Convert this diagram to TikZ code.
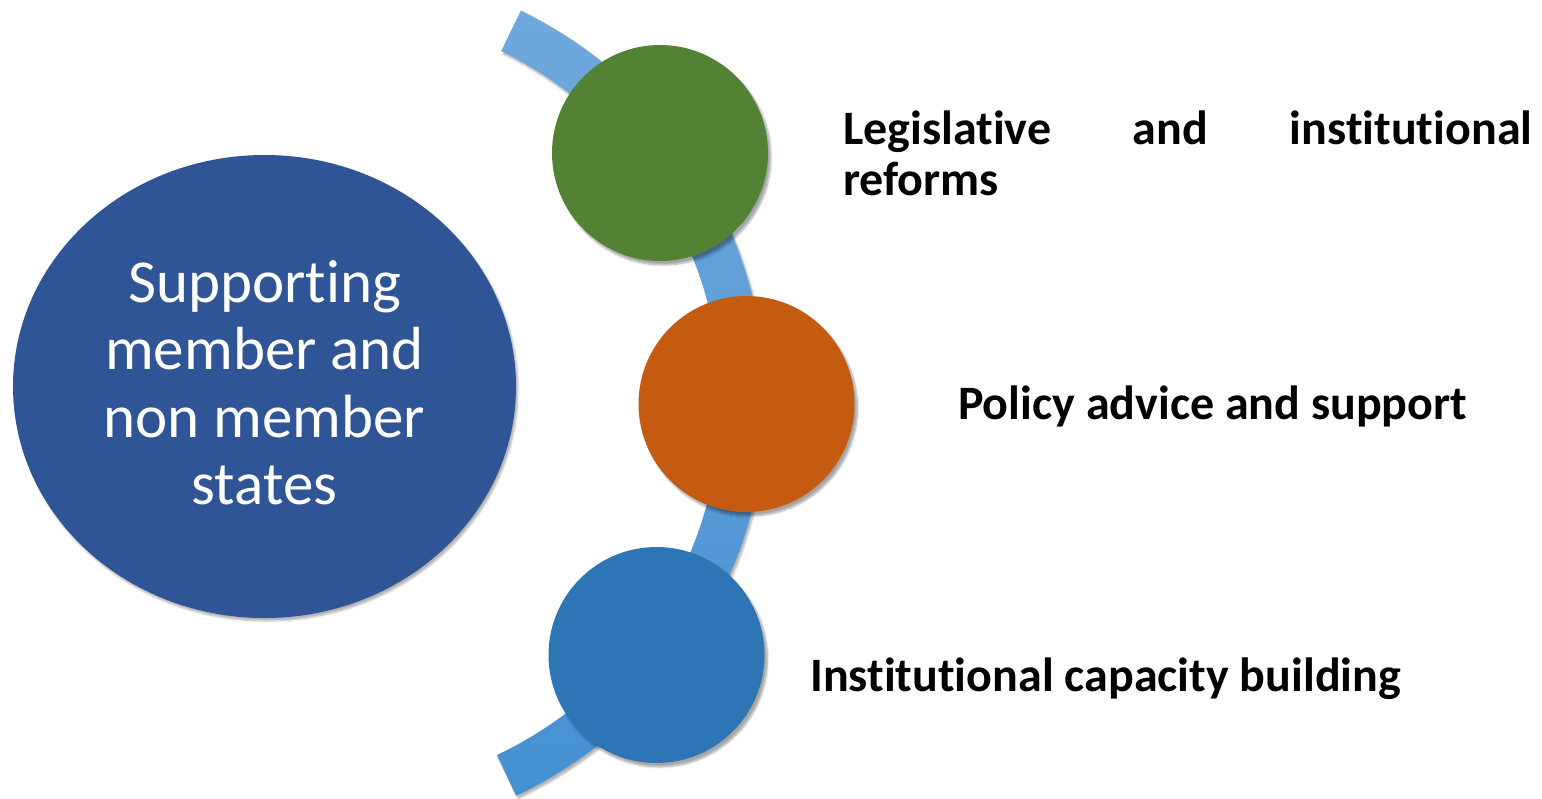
\documentclass[tikz,border=0pt]{standalone}
\usepackage{fontspec}
\setmainfont{Carlito}[RawFeature=-liga]
\usetikzlibrary{shadows.blur}
\definecolor{bigblue}{HTML}{2F5597}
\definecolor{cgreen}{HTML}{548235}
\definecolor{corange}{HTML}{C55A11}
\definecolor{cblue}{HTML}{2E75B6}
\definecolor{bandtop}{HTML}{70A8DC}
\definecolor{bandbot}{HTML}{4690D2}
\tikzset{
  dot/.style={circle, minimum size=216pt, inner sep=0pt, blur shadow={shadow xshift=3pt, shadow yshift=-4pt, shadow blur steps=8, shadow opacity=35}},
  lbl/.style={font=\fontsize{48}{51}\selectfont\bfseries, text=black, inner sep=0pt},
  ctext/.style={font=\fontsize{61}{67}\selectfont, text=white, align=center, inner sep=0pt}
}
\begin{document}
\begin{tikzpicture}[x=1pt,y=-1pt]
\useasboundingbox (0,0) rectangle (1542,798);
% band (annular sector)
\coordinate (bc) at (330,402);
\shade[top color=bandtop, bottom color=bandbot, blur shadow={shadow xshift=2pt, shadow yshift=-3pt, shadow opacity=30}]
  ([shift={(64:435.5pt)}]bc) arc[start angle=64, end angle=-64.7, radius=435.5pt]
  -- ([shift={(-64.7:390.5pt)}]bc) arc[start angle=-64.7, end angle=64, radius=390.5pt] -- cycle;
% big ellipse
\fill[bigblue, blur shadow={shadow xshift=2pt, shadow yshift=-3pt, shadow opacity=30}] (264.5,386.5) ellipse[x radius=251.5, y radius=231.5];
\node[ctext, anchor=base] (t1) at (264.5,302) {Supporting};
\node[ctext, anchor=base] (t2) at (264.5,369) {member and};
\node[ctext, anchor=base] (t3) at (264.5,437) {non member};
\node[ctext, anchor=base] (t4) at (264.5,504) {states};
% circles
\node[dot, fill=cgreen] (g) at (660,153) {};
\node[dot, fill=corange] (o) at (746.5,404) {};
\node[dot, fill=cblue] (b) at (656.5,655) {};
% labels
\node[lbl, anchor=north west, text width=689pt, align=left] (l1) at (843,111) {Legislative\hfill and\hfill institutional\\reforms};
\node[lbl, anchor=base west] (l2) at (958,419) {Policy advice and support};
\node[lbl, anchor=base west] (l3) at (810,691) {Institutional capacity building};
\end{tikzpicture}
\end{document}
